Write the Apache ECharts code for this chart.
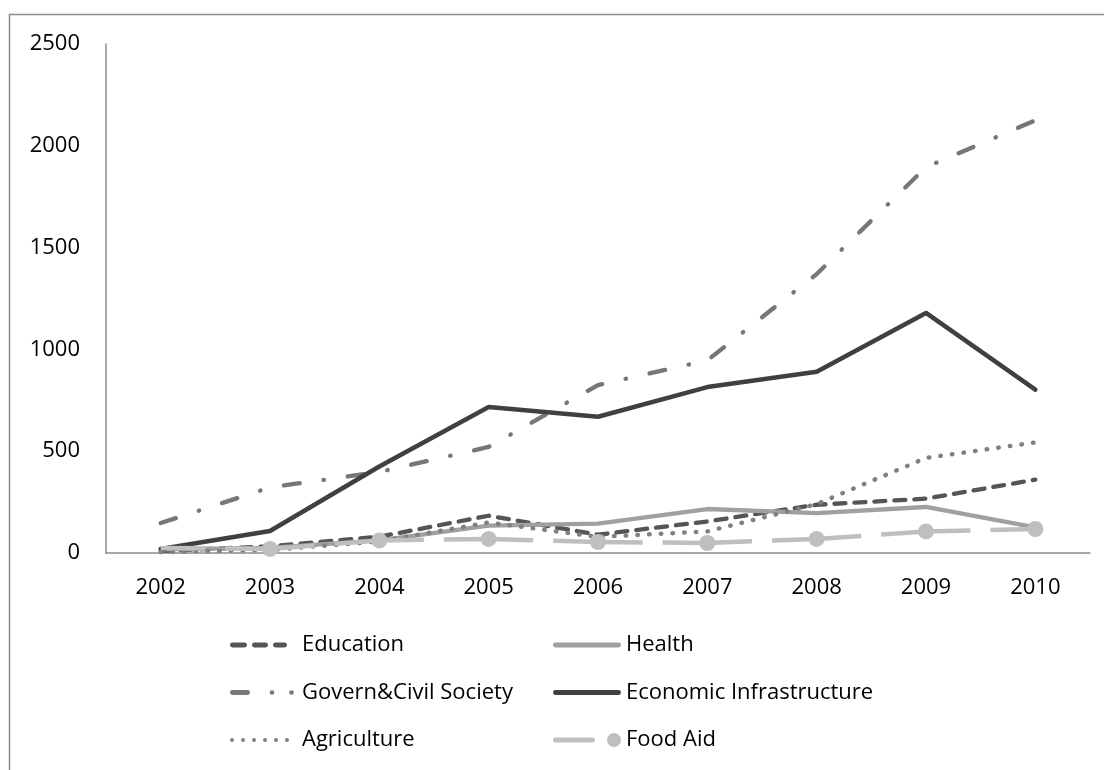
<!DOCTYPE html>
<html>
<head>
<meta charset="utf-8">
<script src="https://cdn.jsdelivr.net/npm/echarts@6/dist/echarts.min.js"></script>
<style>
  html, body { margin: 0; padding: 0; background: #fff; }
  #chart { width: 1104px; height: 770px; }
</style>
</head>
<body>
<div id="chart"></div>
<script>
// Aid disbursements by sector, 2002-2010
const years = ['2002', '2003', '2004', '2005', '2006', '2007', '2008', '2009', '2010'];
const yTicks = [0, 500, 1000, 1500, 2000, 2500];

const education     = [10, 33, 80, 183, 90, 155, 237, 267, 360];
const health        = [18, 25, 62, 134, 144, 216, 196, 226, 126];
const governCivil   = [147, 322, 398, 521, 825, 946, 1370, 1895, 2125];
const economicInfra = [20, 108, 425, 717, 669, 815, 890, 1179, 802];
const agriculture   = [5, 15, 57, 150, 79, 106, 240, 467, 543];
const foodAid       = [25, 20, 62, 69, 54, 49, 69, 106, 118];

const FONT = '"Open Sans", "Noto Sans", sans-serif';
const AXIS_GRAY = '#8c8c8c';

// ---- legend glyph helpers (paths in an icon-sized frame) ----
function capsule(x1, x2, cy, r) {
  return 'M' + x1 + ',' + (cy - r) + ' L' + x2 + ',' + (cy - r) +
    ' A' + r + ',' + r + ' 0 0 1 ' + x2 + ',' + (cy + r) +
    ' L' + x1 + ',' + (cy + r) +
    ' A' + r + ',' + r + ' 0 0 1 ' + x1 + ',' + (cy - r) + ' Z ';
}
function dot(cx, cy, r) {
  return 'M' + (cx - r) + ',' + cy +
    ' A' + r + ',' + r + ' 0 1 0 ' + (cx + r) + ',' + cy +
    ' A' + r + ',' + r + ' 0 1 0 ' + (cx - r) + ',' + cy + ' Z ';
}
// invisible corner specks so every glyph spans the whole frame
function frame(w, h) {
  return 'M0,0 L0.01,0 L0,0.01 Z M' + w + ',' + h + ' L' + (w - 0.01) + ',' + h + ' L' + w + ',' + (h - 0.01) + ' Z ';
}
const LW = 64, RW = 68, IH = 14, CY = 7, R = 2.4;

const iconEducation = 'path://' + frame(LW, IH) +
  capsule(2.4, 14.6, CY, R) + capsule(24.4, 35.6, CY, R) + capsule(45.4, 54.6, CY, R);
const iconGovern = 'path://' + frame(LW, IH) +
  capsule(2.4, 17.6, CY, R) + dot(42, CY, 2.3) + dot(61.5, CY, 2.3);
const iconAgriculture = 'path://' + frame(LW, IH) +
  dot(2, CY, 2) + dot(13, CY, 2) + dot(24, CY, 2) + dot(35, CY, 2) + dot(46, CY, 2) + dot(57, CY, 2);
const iconSolid = 'path://' + frame(RW, IH) + capsule(2.4, RW - 2.4, CY, R);
const iconFoodAid = 'path://' + frame(RW, IH) + capsule(2.4, 39.6, CY, R) + dot(RW - 7, CY, 7);

function lineSeries(name, data, color, dash, width, extra) {
  return Object.assign({
    name: name,
    type: 'line',
    data: data,
    symbol: 'none',
    lineStyle: { color: color, width: width, type: dash, cap: 'round', join: 'round' },
    itemStyle: { color: color, borderWidth: 0 },
    emphasis: { disabled: true }
  }, extra || {});
}

const legendText = { color: '#000', fontSize: 22, fontFamily: FONT, lineHeight: 22 };

const chart = echarts.init(document.getElementById('chart'), null, { renderer: 'canvas' });

chart.setOption({
  animation: false,
  backgroundColor: '#ffffff',
  textStyle: { fontFamily: FONT },
  graphic: [{
    type: 'rect',
    shape: { x: 9.5, y: 14.5, width: 1300, height: 1000 },
    style: { fill: 'none', stroke: AXIS_GRAY, lineWidth: 1.5 },
    silent: true,
    z: -10
  }],
  grid: { left: 106, right: 14, top: 44, bottom: 217 },
  xAxis: {
    type: 'category',
    data: years,
    boundaryGap: true,
    axisLine: { lineStyle: { color: AXIS_GRAY, width: 1.5 } },
    axisTick: { show: false },
    axisLabel: { color: '#000', fontSize: 22, fontFamily: FONT, margin: 24 },
    splitLine: { show: false }
  },
  yAxis: {
    type: 'value',
    min: yTicks[0],
    max: yTicks[yTicks.length - 1],
    interval: yTicks[1] - yTicks[0],
    axisLine: { show: true, lineStyle: { color: AXIS_GRAY, width: 1.5 } },
    axisTick: { show: false },
    axisLabel: {
      color: '#000', fontSize: 22, fontFamily: FONT, margin: 26,
      formatter: function (v) { return String(v); }
    },
    splitLine: { show: false }
  },
  legend: [
    {
      orient: 'vertical',
      left: 225,
      top: 629,
      itemWidth: LW,
      itemHeight: IH,
      itemGap: 25.5,
      itemStyle: { borderWidth: 0 },
      textStyle: Object.assign({ padding: [0, 0, 0, 3] }, legendText),
      selectedMode: false,
      data: [
        { name: 'Education', icon: iconEducation },
        { name: 'Govern&Civil Society', icon: iconGovern },
        { name: 'Agriculture', icon: iconAgriculture }
      ]
    },
    {
      orient: 'vertical',
      left: 548,
      top: 629,
      itemWidth: RW,
      itemHeight: IH,
      itemGap: 25.5,
      itemStyle: { borderWidth: 0 },
      textStyle: Object.assign({ padding: [0, 0, 0, 0] }, legendText),
      selectedMode: false,
      data: [
        { name: 'Health', icon: iconSolid },
        { name: 'Economic Infrastructure', icon: iconSolid },
        { name: 'Food Aid', icon: iconFoodAid }
      ]
    }
  ],
  series: [
    lineSeries('Education', education, '#555555', [11, 9], 4.3),
    lineSeries('Health', health, '#a0a0a0', 'solid', 4.3),
    lineSeries('Govern&Civil Society', governCivil, '#777777', [16, 24, 0.5, 24], 4.3),
    lineSeries('Economic Infrastructure', economicInfra, '#404040', 'solid', 4.5),
    lineSeries('Agriculture', agriculture, '#808080', [0.5, 11.2], 4.5),
    lineSeries('Food Aid', foodAid.map(function (v, i) {
      // the opening year carries no marker
      return i === 0 ? { value: v, symbol: 'none' } : v;
    }), '#bfbfbf', [89.4, 20], 4.5, {
      symbol: 'circle',
      symbolSize: 16,
      showAllSymbol: true,
      lineStyle: { color: '#bfbfbf', width: 4.5, type: [89.4, 20], dashOffset: 44.7, cap: 'butt', join: 'round' },
      itemStyle: { color: '#bfbfbf', borderWidth: 0 }
    })
  ]
});
</script>
</body>
</html>
